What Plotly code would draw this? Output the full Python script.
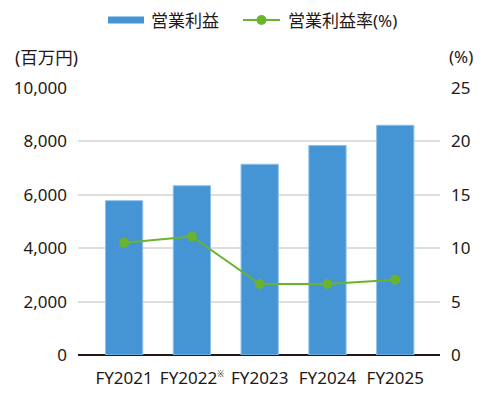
import plotly.graph_objects as go

categories = ["FY2021", "FY2022<sup><span style='font-size:8px'>※</span></sup>", "FY2023", "FY2024", "FY2025"]
operating_profit = [5780, 6340, 7145, 7850, 8605]
operating_margin = [10.5, 11.1, 6.65, 6.65, 7.05]

bar_name = "営業利益"
line_name = "営業利益率(%)"
left_unit = "(百万円)"
right_unit = "(%)"

BLUE = "#4594d3"
GREEN = "#6ab42d"
TXT = "#231815"
FONT = "Noto Sans, Noto Sans CJK JP"

OFF = 8  # page body margin
W, H = 490 - OFF, 396 - OFF
L, T = 78 - OFF, 88 - OFF
R, B = 50, 41
PW, PH = W - L - R, H - T - B


def px(xp):
    return (xp - OFF - L) / PW


def py(yp):
    return (H - B - (yp - OFF)) / PH


fig = go.Figure()
fig.add_trace(go.Bar(
    x=categories, y=operating_profit, name=bar_name,
    marker=dict(color=BLUE, line=dict(color="#8fc1ea", width=1)),
    width=0.55, showlegend=False, yaxis="y",
))
fig.add_trace(go.Scatter(
    x=categories, y=operating_margin, name=line_name, mode="lines+markers",
    line=dict(color=GREEN, width=2), marker=dict(color=GREEN, size=10),
    showlegend=False, yaxis="y2",
))

# manual legend (wide swatches)
fig.add_shape(type="rect", xref="paper", yref="paper",
              x0=px(108), x1=px(144), y0=py(23.5), y1=py(16.5),
              fillcolor=BLUE, line=dict(width=0))
fig.add_shape(type="line", xref="paper", yref="paper",
              x0=px(243), x1=px(280), y0=py(20), y1=py(20),
              line=dict(color=GREEN, width=2))
fig.add_shape(type="circle", xref="paper", yref="paper",
              xsizemode="pixel", ysizemode="pixel",
              xanchor=px(261.5), yanchor=py(20), x0=-5, x1=5, y0=-5, y1=5,
              fillcolor=GREEN, line=dict(width=0))
fig.add_annotation(text=bar_name, xref="paper", yref="paper", x=px(149), y=py(20),
                   xanchor="left", yanchor="middle", showarrow=False,
                   font=dict(size=17, color=TXT, family=FONT))
fig.add_annotation(text=line_name, xref="paper", yref="paper", x=px(286), y=py(20),
                   xanchor="left", yanchor="middle", showarrow=False,
                   font=dict(size=17, color=TXT, family=FONT))
fig.add_annotation(text=left_unit, xref="paper", yref="paper", x=px(13), y=py(57),
                   xanchor="left", yanchor="middle", showarrow=False,
                   font=dict(size=17.5, color=TXT, family=FONT))
fig.add_annotation(text=right_unit, xref="paper", yref="paper", x=px(475), y=py(57),
                   xanchor="right", yanchor="middle", showarrow=False,
                   font=dict(size=17, color=TXT, family=FONT))

fig.update_layout(
    width=W, height=H,
    margin=dict(l=L, r=R, t=T, b=B, autoexpand=False),
    plot_bgcolor="white", paper_bgcolor="white",
    font=dict(family=FONT, size=17, color=TXT),
    showlegend=False,
    xaxis=dict(range=[-0.68, 4.66], showgrid=False, ticks="", showline=False,
               automargin=False, ticklabelstandoff=11,
               tickfont=dict(size=17, color=TXT), fixedrange=True),
    yaxis=dict(range=[0, 10000], dtick=2000, tickformat=",d", showgrid=True,
               gridcolor="#dedede", gridwidth=1.5, zeroline=True, zerolinecolor="#231815",
               zerolinewidth=1.5, ticks="", ticklabelstandoff=10, automargin=False,
               tickfont=dict(size=17, color=TXT)),
    yaxis2=dict(range=[0, 25], dtick=5, overlaying="y", side="right", showgrid=False,
                zeroline=False, ticks="", ticklabelstandoff=10, automargin=False,
                tickfont=dict(size=17, color=TXT)),
)

fig.write_html("out.html")
